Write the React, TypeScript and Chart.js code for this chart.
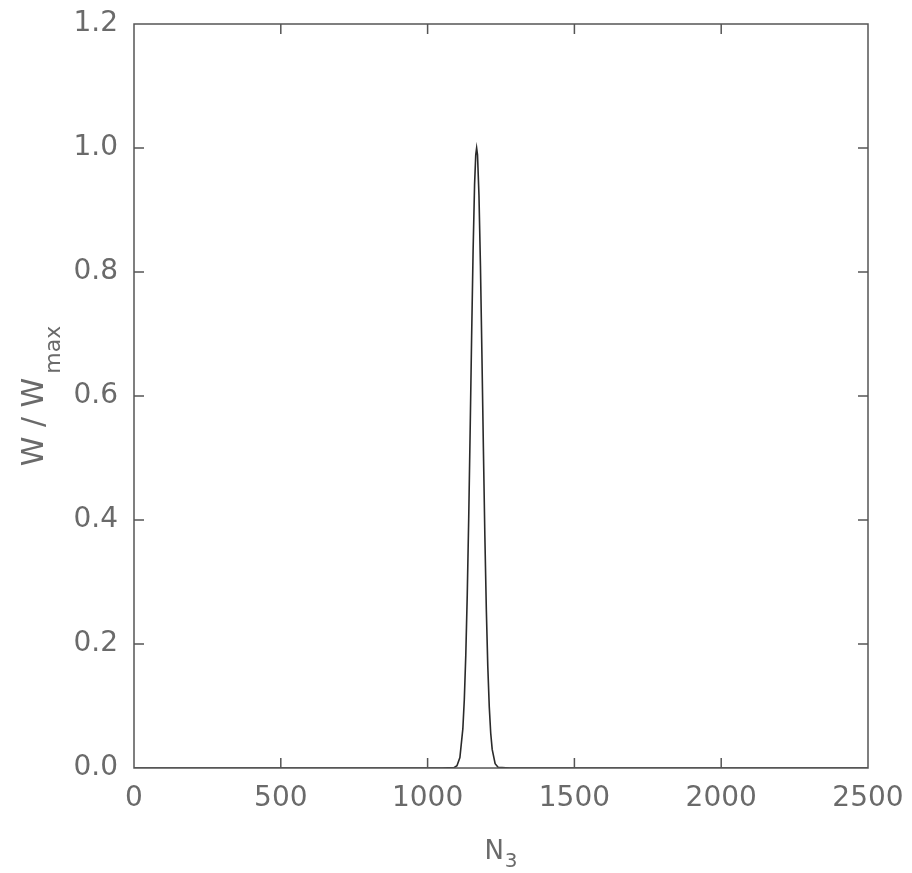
import React, { useEffect, useRef } from "react";
import { Chart, registerables } from "chart.js";

Chart.register(...registerables);

// N3 values and normalised W / Wmax
const nValues = [0, 1050, 1090, 1100, 1110, 1120, 1125, 1130, 1135, 1140, 1145, 1150, 1155, 1160, 1164, 1167, 1170, 1175, 1180, 1185, 1190, 1195, 1200, 1205, 1210, 1215, 1220, 1230, 1240, 1280, 2500];
const wValues = [0, 0, 0.0006, 0.0037, 0.017, 0.063, 0.11, 0.181, 0.278, 0.402, 0.546, 0.697, 0.835, 0.941, 0.989, 1.0, 0.989, 0.923, 0.81, 0.667, 0.516, 0.375, 0.256, 0.164, 0.099, 0.056, 0.03, 0.007, 0.0013, 0, 0];

const xTickMin = 0;
const xTickMax = 2500;
const xTickStep = 500;
const yTickMin = 0;
const yTickMax = 1.2;
const yTickStep = 0.2;

const xTitleMain = "N";
const xTitleSub = "3";
const yTitleMain = "W / W";
const yTitleSub = "max";

const TEXT_COLOR = "#6a6a6a";
const FRAME_COLOR = "#555555";
const FONT = "DejaVu Sans";

const framePlugin = {
  id: "frameTicks",
  afterDatasetsDraw(chart: any) {
    const { ctx, chartArea } = chart;
    const { left, right, top, bottom } = chartArea;
    const xs = chart.scales.x;
    const ys = chart.scales.y;
    const len = 10;
    ctx.save();
    ctx.strokeStyle = FRAME_COLOR;
    ctx.lineWidth = 1.5;
    ctx.strokeRect(left, top, right - left, bottom - top);
    ctx.beginPath();
    xs.ticks.forEach((t: any) => {
      const px = xs.getPixelForValue(t.value);
      if (px <= left + 1 || px >= right - 1) return;
      ctx.moveTo(px, bottom);
      ctx.lineTo(px, bottom - len);
      ctx.moveTo(px, top);
      ctx.lineTo(px, top + len);
    });
    ys.ticks.forEach((t: any) => {
      const py = ys.getPixelForValue(t.value);
      if (py <= top + 1 || py >= bottom - 1) return;
      ctx.moveTo(left, py);
      ctx.lineTo(left + len, py);
      ctx.moveTo(right, py);
      ctx.lineTo(right - len, py);
    });
    ctx.stroke();
    ctx.restore();
  },
  afterDraw(chart: any) {
    const { ctx, chartArea } = chart;
    const cx = (chartArea.left + chartArea.right) / 2;
    const cy = (chartArea.top + chartArea.bottom) / 2;
    ctx.save();
    ctx.fillStyle = TEXT_COLOR;
    ctx.textBaseline = "alphabetic";
    ctx.textAlign = "left";
    // x title
    const mainX = `26px "${FONT}"`;
    const subX = `20px "${FONT}"`;
    ctx.font = mainX;
    const wN = ctx.measureText(xTitleMain).width;
    ctx.font = subX;
    const w3 = ctx.measureText(xTitleSub).width;
    const totalX = wN + 1 + w3;
    const sx = cx - totalX / 2;
    ctx.font = mainX;
    ctx.fillText(xTitleMain, sx, 859);
    ctx.font = subX;
    ctx.fillText(xTitleSub, sx + wN + 1, 867);
    // y title
    const mainY = `30px "${FONT}"`;
    const subY = `22px "${FONT}"`;
    ctx.font = mainY;
    const wW = ctx.measureText(yTitleMain).width;
    ctx.font = subY;
    const wM = ctx.measureText(yTitleSub).width;
    const totalY = wW + 4 + wM;
    ctx.translate(43, cy);
    ctx.rotate(-Math.PI / 2);
    ctx.font = mainY;
    ctx.fillText(yTitleMain, -totalY / 2, 0);
    ctx.font = subY;
    ctx.fillText(yTitleSub, -totalY / 2 + wW + 4, 17);
    ctx.restore();
  },
};

export default function App() {
  const ref = useRef<HTMLCanvasElement>(null);
  useEffect(() => {
    if (!ref.current) return;
    const points = nValues.map((x, i) => ({ x, y: wValues[i] }));
    const chart = new Chart(ref.current, {
      type: "line",
      data: {
        datasets: [
          {
            data: points,
            borderColor: "#2a2a2a",
            borderWidth: 1.6,
            pointRadius: 0,
            fill: false,
            tension: 0,
          },
        ],
      },
      options: {
        animation: false,
        responsive: true,
        maintainAspectRatio: false,
        layout: { padding: { top: 24, right: 44, left: 0, bottom: 0 } },
        plugins: { legend: { display: false }, tooltip: { enabled: false } },
        scales: {
          x: {
            type: "linear",
            min: xTickMin,
            max: xTickMax,
            grid: { display: false, drawTicks: false },
            border: { display: false },
            ticks: {
              stepSize: xTickStep,
              padding: 14,
              color: TEXT_COLOR,
              font: { family: FONT, size: 28 },
              maxRotation: 0,
              callback: (v: any) => String(Math.round(Number(v))),
            },
            afterFit: (s: any) => {
              s.height = 105;
              s.paddingLeft = 0;
              s.paddingRight = 0;
            },
          },
          y: {
            type: "linear",
            min: yTickMin,
            max: yTickMax,
            grid: { display: false, drawTicks: false },
            border: { display: false },
            ticks: {
              stepSize: yTickStep,
              padding: 16,
              color: TEXT_COLOR,
              font: { family: FONT, size: 28 },
              callback: (v: any) => Number(v).toFixed(1),
            },
            afterFit: (s: any) => {
              s.width = 134;
              s.paddingTop = 0;
              s.paddingBottom = 0;
            },
          },
        },
      },
      plugins: [framePlugin],
    });
    return () => chart.destroy();
  }, []);
  return (
    <div style={{ position: "fixed", left: 0, top: 0, width: 912, height: 873, background: "#fff" }}>
      <canvas ref={ref} style={{ display: "block" }} />
    </div>
  );
}
